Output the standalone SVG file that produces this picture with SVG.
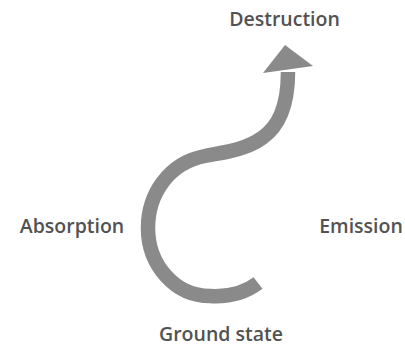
<svg xmlns="http://www.w3.org/2000/svg" width="405" height="349" viewBox="0 0 405 349">
  <style>
    .lbl { font-family: "Open Sans", "Noto Sans", "DejaVu Sans", sans-serif; font-weight: 600; font-size: 19.5px; fill: #525252; text-anchor: middle; }
    .flow { fill: none; stroke: #8a8a8a; stroke-width: 14.5; stroke-linecap: butt; stroke-linejoin: round; }
    .head { fill: #8a8a8a; }
  </style>
  <rect width="405" height="349" fill="#ffffff"/>
  <g id="connectors">
    <path class="flow" d="M 258 283 C 245 293, 228 297, 210 296 C 175 296, 148 265, 148 228 C 148 195, 168 163, 205 156 C 225 152, 245 150, 262 138 C 278 127, 288 108, 288 72"/>
    <polygon class="head" points="285,45 313,66 263,73"/>
  </g>
  <g id="destruction"><text class="lbl" x="284.5" y="26">Destruction</text></g>
  <g id="absorption"><text class="lbl" x="72" y="233">Absorption</text></g>
  <g id="emission"><text class="lbl" x="361" y="233">Emission</text></g>
  <g id="ground-state"><text class="lbl" x="221" y="341">Ground state</text></g>
</svg>
